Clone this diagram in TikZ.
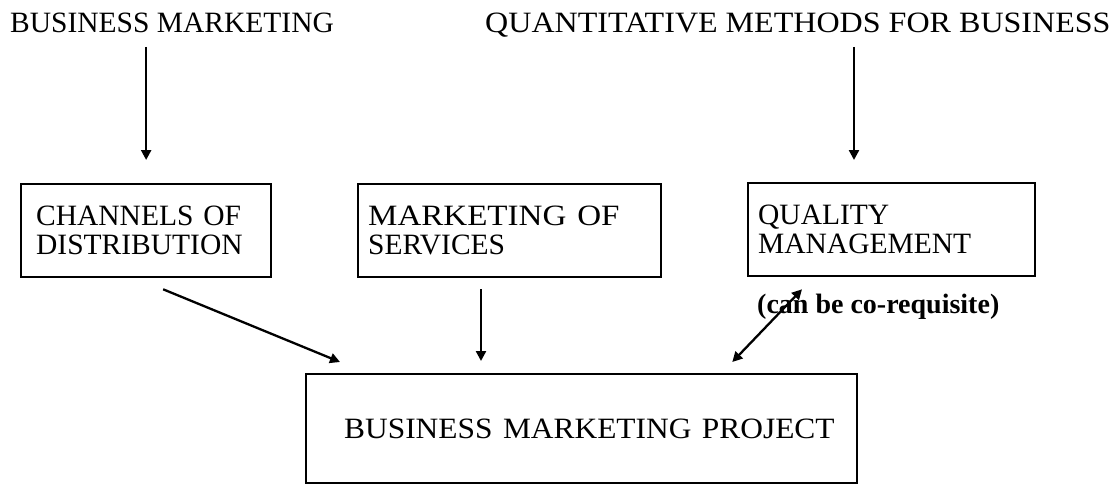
\documentclass[tikz,border=0pt]{standalone}
\usepackage{fontspec}
\setmainfont{Liberation Serif}
\usetikzlibrary{arrows.meta,calc}
\begin{document}
\begin{tikzpicture}[x=1pt,y=-1pt,
  every node/.style={font=\fontsize{29.5}{29}\selectfont},
  heading/.style={anchor=base west,inner sep=0pt},
  course/.style={draw,line width=2.3pt,anchor=north west,align=left,inner ysep=0pt},
  arr/.style={line width=2.3pt,-{Triangle[length=10pt,width=10pt]}},
  darr/.style={line width=2.3pt,{Triangle[length=10pt,width=10pt]}-{Triangle[length=10pt,width=10pt]}}]
\useasboundingbox (0,0) rectangle (1118,484);
\node[heading] (h1) at (10,33) {BUSINESS MARKETING};
\node[heading] (h2) at (485,33) {\scalebox{1.087}[1]{QUANTITATIVE METHODS FOR BUSINESS}};
\node[course,inner xsep=15pt,text width=220pt,minimum height=93pt] (ch) at (20,183) {CHANNELS OF\\DISTRIBUTION};
\node[course,inner xsep=10pt,text width=283pt,minimum height=93pt] (ms) at (357,183) {\scalebox{1.12}[1]{MARKETING OF}\\SERVICES};
\node[course,inner xsep=10pt,text width=267pt,minimum height=93pt] (ql) at (747,182) {QUALITY\\MANAGEMENT};
\node[course,align=left,inner xsep=38pt,text width=475pt,minimum height=109pt] (pj) at (305,373) {\scalebox{1.065}[1]{BUSINESS MARKETING PROJECT}};
\node[heading,font=\fontsize{28}{29}\selectfont\bfseries] (note) at (757,313) {(can be co-requisite)};
\draw[arr] ($(h1.base -| ch.north)+(0,14)$) -- ($(ch.north)+(0,-23)$);
\draw[arr] ($(h2.base -| ql.north west)+(107,14)$) -- ($(ql.north west)+(107,-22)$);
\draw[arr] ($(ch.south)+(17,11)$) -- ($(pj.north west)+(35,-11)$);
\draw[arr] ($(ms.south west)+(124,11)$) -- ($(pj.north west)+(176,-12)$);
\draw[darr] ($(pj.north east)+(-126,-11)$) -- ($(ql.south west)+(55,12)$);
\end{tikzpicture}
\end{document}
